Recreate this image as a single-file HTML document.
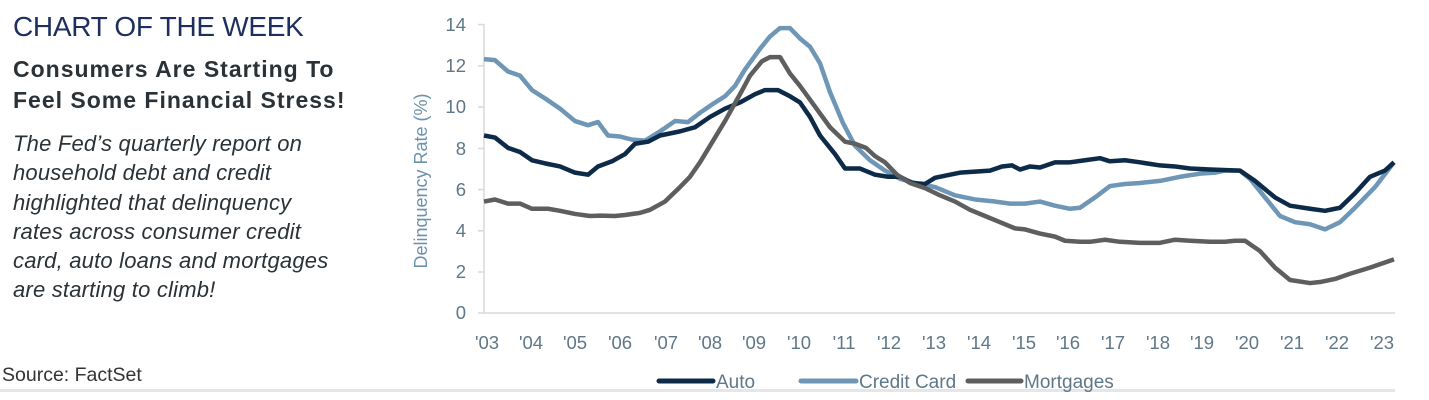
<!DOCTYPE html>
<html><head><meta charset="utf-8"><style>
body{margin:0;width:1429px;height:400px;background:#fff;overflow:hidden;position:relative;font-family:"Liberation Sans",sans-serif}
.t{position:absolute;white-space:nowrap}
</style></head><body>
<div class="t" style="left:13px;top:11px;font-size:28px;color:#1d2f5e;letter-spacing:-0.3px">CHART OF THE WEEK</div>
<div class="t" style="left:13px;top:54px;font-size:23px;font-weight:bold;color:#2a3237;line-height:31px;letter-spacing:1px">Consumers Are Starting To<br>Feel Some Financial Stress!</div>
<div class="t" style="left:13px;top:129px;font-size:22px;font-style:italic;color:#2a3237;line-height:29.3px;letter-spacing:0.2px">The Fed’s quarterly report on<br>household debt and credit<br>highlighted that delinquency<br>rates across consumer credit<br>card, auto loans and mortgages<br>are starting to climb!</div>
<div class="t" style="left:2px;top:364px;font-size:19.5px;color:#333">Source: FactSet</div>
<div style="position:absolute;left:0;top:389px;width:1395px;height:3px;background:#e4e6e8"></div>
<svg width="1429" height="400" style="position:absolute;left:0;top:0">
<g stroke="#d9d9d9" stroke-width="1.5">
<line x1="484" y1="24" x2="484" y2="313"/><line x1="484" y1="313" x2="1395" y2="313"/>
<line x1="478" y1="24.5" x2="484" y2="24.5"/><line x1="478" y1="65.8" x2="484" y2="65.8"/><line x1="478" y1="107" x2="484" y2="107"/><line x1="478" y1="148.4" x2="484" y2="148.4"/><line x1="478" y1="189.6" x2="484" y2="189.6"/><line x1="478" y1="230.8" x2="484" y2="230.8"/><line x1="478" y1="272" x2="484" y2="272"/><line x1="478" y1="313" x2="484" y2="313"/>
</g>
<g font-family="Liberation Sans" font-size="18.5" fill="#5f7788" text-anchor="end">
<text x="466" y="31">14</text><text x="466" y="72">12</text><text x="466" y="113">10</text><text x="466" y="155">8</text><text x="466" y="196">6</text><text x="466" y="237">4</text><text x="466" y="278">2</text><text x="466" y="319">0</text>
</g>
<text transform="translate(427,181) rotate(-90)" font-family="Liberation Sans" font-size="18" fill="#6b92ad" text-anchor="middle">Delinquency Rate (%)</text>
<g font-family="Liberation Sans" font-size="18.5" fill="#5f7788" text-anchor="middle">
<text x="487" y="349">'03</text><text x="531" y="349">'04</text><text x="575" y="349">'05</text><text x="620" y="349">'06</text><text x="666" y="349">'07</text><text x="710" y="349">'08</text><text x="754" y="349">'09</text><text x="799" y="349">'10</text><text x="844" y="349">'11</text><text x="889" y="349">'12</text><text x="934" y="349">'13</text><text x="979" y="349">'14</text><text x="1024" y="349">'15</text><text x="1068" y="349">'16</text><text x="1113" y="349">'17</text><text x="1158" y="349">'18</text><text x="1202" y="349">'19</text><text x="1247" y="349">'20</text><text x="1292" y="349">'21</text><text x="1337" y="349">'22</text><text x="1382" y="349">'23</text>
</g>
<g transform="translate(0,313) scale(1,-20.64)" fill="none" stroke-width="4.5" stroke-linejoin="round">
<polyline vector-effect="non-scaling-stroke" stroke="#6e96b6" points="484,12.3 495,12.25 508,11.7 520,11.5 532,10.8 545,10.4 560,9.9 575,9.3 588,9.1 598,9.25 608,8.6 620,8.55 632,8.4 645,8.35 660,8.8 675,9.3 688,9.25 700,9.7 712,10.1 725,10.5 735,11 745,11.8 760,12.8 770,13.4 780,13.8 790,13.8 800,13.3 810,12.9 820,12.1 830,10.7 843,9.2 855,8.1 870,7.4 885,6.9 900,6.5 915,6.3 935,6.1 955,5.7 975,5.5 995,5.4 1010,5.3 1025,5.3 1040,5.4 1055,5.2 1070,5.05 1080,5.1 1095,5.6 1110,6.15 1125,6.25 1140,6.3 1160,6.4 1180,6.6 1200,6.75 1215,6.8 1225,6.9 1240,6.9 1250,6.5 1265,5.6 1280,4.7 1295,4.4 1310,4.3 1325,4.05 1340,4.4 1355,5.1 1375,6.1 1394,7.3"/>
<polyline vector-effect="non-scaling-stroke" stroke="#0d2a48" points="484,8.6 495,8.5 508,8 520,7.8 532,7.4 545,7.25 560,7.1 575,6.8 588,6.7 598,7.1 612,7.35 625,7.7 635,8.2 648,8.3 660,8.6 680,8.8 695,9 710,9.5 725,9.9 740,10.2 755,10.6 765,10.8 778,10.8 790,10.5 800,10.2 810,9.5 820,8.6 835,7.7 845,7 860,7 875,6.7 888,6.6 900,6.6 912,6.3 925,6.25 935,6.55 950,6.7 960,6.8 975,6.85 990,6.9 1002,7.1 1012,7.15 1020,6.95 1030,7.1 1040,7.05 1055,7.3 1070,7.3 1085,7.4 1100,7.5 1110,7.35 1125,7.4 1140,7.3 1160,7.15 1175,7.1 1190,7 1210,6.95 1240,6.9 1255,6.4 1275,5.6 1290,5.2 1310,5.05 1325,4.95 1340,5.1 1355,5.8 1370,6.6 1385,6.9 1394,7.3"/>
<polyline vector-effect="non-scaling-stroke" stroke="#5e5e5e" points="484,5.4 495,5.5 508,5.3 520,5.3 532,5.05 548,5.05 560,4.95 575,4.8 590,4.7 600,4.72 615,4.7 625,4.75 640,4.85 650,5 665,5.4 680,6.1 690,6.6 700,7.3 710,8.1 725,9.3 740,10.6 750,11.5 762,12.2 770,12.4 780,12.4 790,11.6 800,11 815,10 830,9 845,8.3 855,8.2 866,8 875,7.6 885,7.3 897,6.7 910,6.3 925,6.05 940,5.7 955,5.4 970,5 985,4.7 1000,4.4 1015,4.1 1025,4.05 1040,3.85 1055,3.7 1065,3.5 1080,3.45 1090,3.45 1105,3.55 1120,3.45 1140,3.4 1160,3.4 1175,3.55 1190,3.5 1210,3.45 1225,3.45 1235,3.5 1245,3.5 1260,3 1275,2.2 1290,1.6 1310,1.45 1320,1.5 1335,1.65 1350,1.9 1370,2.2 1394,2.6"/>
</g>
<g stroke-width="5" stroke-linecap="round">
<line x1="659" y1="381" x2="713" y2="381" stroke="#0d2a48"/>
<line x1="801" y1="381" x2="856" y2="381" stroke="#6e96b6"/>
<line x1="968" y1="381" x2="1021" y2="381" stroke="#5e5e5e"/>
</g>
<g font-family="Liberation Sans" font-size="19" fill="#5f7788">
<text x="716" y="388">Auto</text><text x="859" y="388">Credit Card</text><text x="1024" y="388">Mortgages</text>
</g>
</svg>
</body></html>
